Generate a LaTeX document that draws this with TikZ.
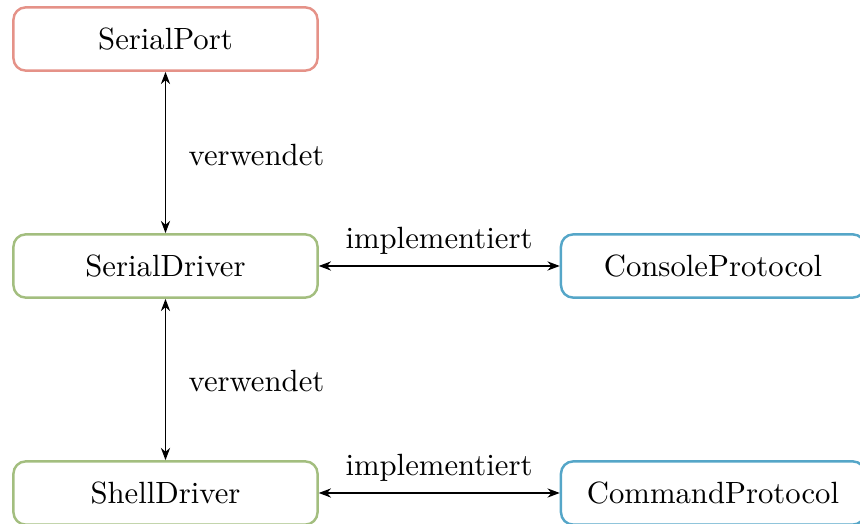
\documentclass[tikz,border=0pt]{standalone}
\usetikzlibrary{arrows.meta}
\definecolor{cred}{RGB}{229,146,136}
\definecolor{cgreen}{RGB}{163,190,127}
\definecolor{cblue}{RGB}{85,166,200}
\begin{document}
\begin{tikzpicture}[x=0.32558pt,y=-0.32558pt,
  box/.style={draw, line width=0.8pt, rounded corners=4pt, minimum width=99pt, minimum height=20.6pt, inner sep=0pt, font=\fontsize{10}{12}\selectfont},
  link/.style={{Stealth[length=4pt,width=3pt]}-{Stealth[length=4pt,width=3pt]}, line width=0.4pt},
  lbl/.style={font=\fontsize{10}{12}\selectfont, inner sep=0pt}]
\useasboundingbox (0,0) rectangle (860,524);
\node[box, draw=cred] (sp) at (165.5,39) {SerialPort};
\node[box, draw=cgreen] (sd) at (165.5,266) {SerialDriver};
\node[box, draw=cgreen] (shd) at (165.5,493) {ShellDriver};
\node[box, draw=cblue] (cp) at (713,266) {ConsoleProtocol};
\node[box, draw=cblue] (cmp) at (713,493) {CommandProtocol};
\draw[link] (sp) -- (sd);
\draw[link] (sd) -- (shd);
\draw[link] (sd) -- (cp);
\draw[link] (shd) -- (cmp);
\node[lbl, anchor=west] (v1) at (188,155) {verwendet};
\node[lbl, anchor=west] (v2) at (188,381) {verwendet};
\node[lbl] (i1) at (439,241) {implementiert};
\node[lbl] (i2) at (439,468) {implementiert};
\end{tikzpicture}
\end{document}
